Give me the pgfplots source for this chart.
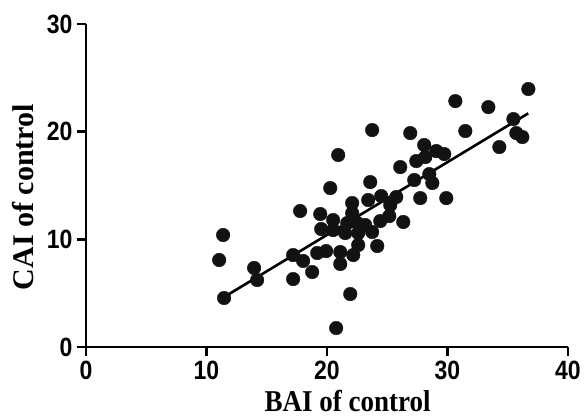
\documentclass[border=0pt]{standalone}
\usepackage{fontspec}
\usepackage{pgfplots}
\pgfplotsset{compat=1.18}
\newfontfamily\ticksf{Liberation Sans}
\newfontfamily\labf{Liberation Serif}
\begin{document}
\begin{tikzpicture}
\path[use as bounding box] (-86pt,-70pt) rectangle (500pt,347pt);
\begin{axis}[
  at={(0,0)}, anchor=south west,
  scale only axis, width=482pt, height=323pt,
  xmin=0, xmax=40, ymin=0, ymax=30,
  axis lines=left,
  axis line style={-, line width=2.6pt, black},
  xtick={0,10,20,30,40}, ytick={0,10,20,30},
  tick align=outside, major tick length=9pt,
  tick style={line width=2.6pt, black},
  /pgf/number format/assume math mode=true,
  tick label style={font=\fontsize{23}{23}\selectfont\ticksf\bfseries, yscale=1.15},
  xticklabel style={yshift=-1pt},
  yticklabel style={xshift=-1pt},
  xlabel={BAI of control},
  ylabel={CAI of control},
  xlabel style={font=\fontsize{27}{27}\selectfont\labf\bfseries, yscale=1.12, at={(axis description cs:0.543,-0.168)}, anchor=center},
  ylabel style={font=\fontsize{30}{30}\selectfont\labf\bfseries, at={(axis description cs:-0.1307,0.464)}, anchor=center},
  clip=false,
]
\addplot[only marks, mark=*, mark size=6.8pt, color=black!93] coordinates {
(11.38,10.40) (11.05,8.08) (11.46,4.55) (13.95,7.34) (14.20,6.22)
(17.19,8.54) (17.19,6.31) (17.77,12.63) (18.02,7.99) (18.77,6.96)
(19.19,8.73) (19.93,8.91) (19.44,12.35) (19.52,10.96) (20.51,11.79)
(20.51,10.86) (20.27,14.76) (20.93,17.83) (20.76,1.76) (21.93,4.92)
(21.10,8.82) (21.10,7.71) (21.51,10.58) (21.68,11.51) (22.09,12.44)
(22.09,13.37) (22.18,8.54) (22.51,11.51) (22.59,10.58) (22.59,9.47)
(23.17,11.33) (23.42,13.65) (23.59,15.32) (23.75,20.15) (23.75,10.68)
(24.17,9.38) (24.42,11.70) (25.17,12.16) (24.50,14.02) (25.25,13.18)
(26.33,11.61) (25.75,13.93) (26.08,16.71) (26.91,19.87) (27.24,15.51)
(27.41,17.27) (27.74,13.83) (28.07,18.76) (28.49,16.06) (28.74,15.23)
(29.07,18.20) (29.73,17.92) (29.90,13.83) (30.65,22.84) (31.48,20.06)
(33.39,22.28) (34.30,18.57) (35.47,21.17) (35.71,19.87) (36.21,19.50)
(36.71,23.96) (28.16,17.64)
};
\addplot[line width=2.6pt, black] coordinates {(11.46,4.64) (36.7,21.7)};
\end{axis}
\end{tikzpicture}
\end{document}
